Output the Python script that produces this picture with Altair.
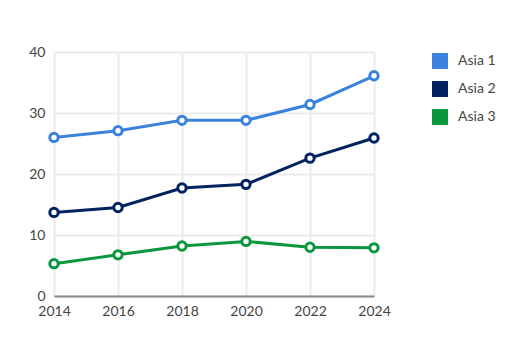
import altair as alt
import pandas as pd

years = [2014, 2016, 2018, 2020, 2022, 2024]
asia1 = [26.0, 27.1, 28.8, 28.8, 31.4, 36.1]
asia2 = [13.7, 14.5, 17.7, 18.3, 22.6, 25.9]
asia3 = [5.3, 6.75, 8.2, 8.95, 8.0, 7.9]
series = ["Asia 1", "Asia 2", "Asia 3"]
colors = ["#3a82dc", "#00235f", "#0a963f"]

rows = []
for name, vals in zip(series, [asia1, asia2, asia3]):
    for y, v in zip(years, vals):
        rows.append({"Year": y, "Value": v, "Series": name})
df = pd.DataFrame(rows)

cscale = alt.Scale(domain=series, range=colors)
legend = alt.Legend(title=None, orient="none", legendX=378, legendY=1,
                    symbolType="square", symbolSize=256, symbolStrokeWidth=0,
                    symbolOpacity=1, rowPadding=12, labelFontSize=14, labelFont="Lato",
                    labelColor="#444444", labelOffset=10)

x = alt.X("Year:Q", scale=alt.Scale(domain=[2014, 2024], nice=False, zero=False),
          axis=alt.Axis(values=years, format="d", title=None, ticks=False, labelFlush=False,
                        domainColor="#888888", domainWidth=2, labelPadding=8,
                        gridColor="#ebebeb", gridWidth=2))
y = alt.Y("Value:Q", scale=alt.Scale(domain=[0, 40], nice=False),
          axis=alt.Axis(values=[0, 10, 20, 30, 40], title=None, ticks=False, domain=False,
                        labelPadding=9, gridColor="#ebebeb", gridWidth=2))

base = alt.Chart(df)
leg = base.mark_square(filled=True, opacity=1, size=4).encode(
    x=x, y=y, color=alt.Color("Series:N", scale=cscale, legend=legend))
line = base.mark_line(strokeWidth=3).encode(
    x=x, y=y, color=alt.Color("Series:N", scale=cscale, legend=None))
pts = base.mark_point(filled=False, fill="white", fillOpacity=1, size=70,
                      strokeWidth=3, opacity=1).encode(
    x=x, y=y, color=alt.Color("Series:N", scale=cscale, legend=None))

chart = alt.layer(leg, line, pts).properties(
    width=320, height=244,
    autosize=alt.AutoSizeParams(type="none"),
    padding={"left": 46, "top": 44, "right": 143, "bottom": 48},
).configure_view(stroke=None).configure_axis(
    labelFont="Lato", labelFontSize=14, labelColor="#444444"
)

chart.save("out.html", embed_options={"renderer": "svg", "actions": False})
